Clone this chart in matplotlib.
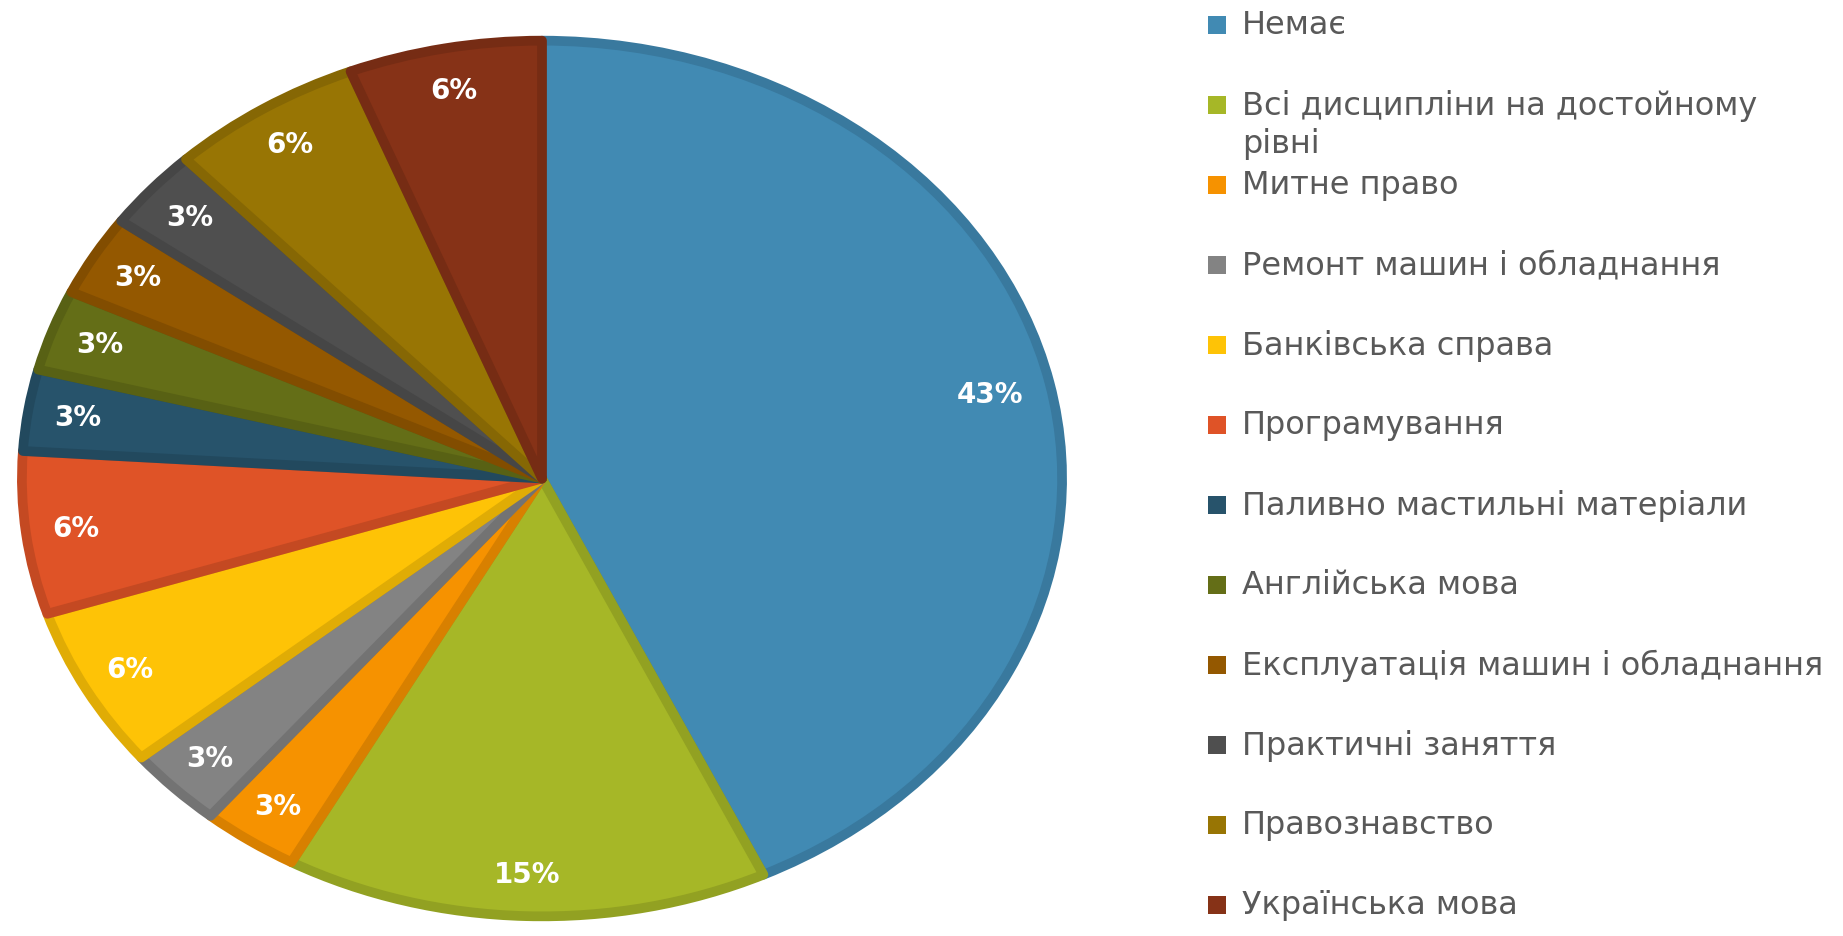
import matplotlib
matplotlib.use("Agg")
import matplotlib.pyplot as plt
from matplotlib.patches import Rectangle
import numpy as np

plt.rcParams['font.family'] = ['DejaVu Sans']

# data (percent of answers)
labels = ["Немає", "Всі дисципліни на достойному\nрівні", "Митне право",
          "Ремонт машин і обладнання", "Банківська справа", "Програмування",
          "Паливно мастильні матеріали", "Англійська мова",
          "Експлуатація машин і обладнання", "Практичні заняття",
          "Правознавство", "Українська мова"]
values = [43, 15, 3, 3, 6, 6, 3, 3, 3, 3, 6, 6]
colors = ["#418AB3", "#A6B727", "#F69200", "#838383", "#FEC306", "#DF5327",
          "#27536B", "#646E17", "#945800", "#4F4F4F", "#987504", "#863217"]

W, H = 1843, 937
fig = plt.figure(figsize=(W / 100, H / 100), dpi=100)

# pie area (image is stretched horizontally, so no equal aspect)
left, right, top, bottom = 14, 1070, 35, 924
ax = fig.add_axes([left / W, 1 - bottom / H, (right - left) / W, (bottom - top) / H])


def darker(c, f=0.88):
    r, g, b = matplotlib.colors.to_rgb(c)
    return (r * f, g * f, b * f)


wedges, _ = ax.pie(values, colors=colors, startangle=90, counterclock=False,
                   radius=0.985,
                   wedgeprops=dict(linewidth=7, joinstyle="round"))
for w, c in zip(wedges, colors):
    w.set_edgecolor(darker(c))

# percentage labels
total = sum(values)
cum = 0
for v in values:
    mid = 90 - 360 * (cum + v / 2) / total
    cum += v
    r = 0.87 if v > 20 else 0.89
    ax.text(r * np.cos(np.radians(mid)), r * np.sin(np.radians(mid)),
            f"{v}%", color="white", fontsize=20, fontweight="bold",
            ha="center", va="center")

ax.set_aspect("auto")
ax.set_xlim(-1, 1)
ax.set_ylim(-1, 1)
ax.axis("off")

# legend
y0, step = 26, 80
for i, (lab, c) in enumerate(zip(labels, colors)):
    y = y0 + i * step
    fig.patches.append(Rectangle(((1217 - 9) / W, 1 - (y + 9) / H), 18 / W, 18 / H,
                                 transform=fig.transFigure, facecolor=c,
                                 edgecolor="none"))
    fig.text(1242 / W, 1 - (y - 16) / H, lab, fontsize=23, color="#595959",
             ha="left", va="top", linespacing=1.25)

fig.savefig("out.png", dpi=100)
